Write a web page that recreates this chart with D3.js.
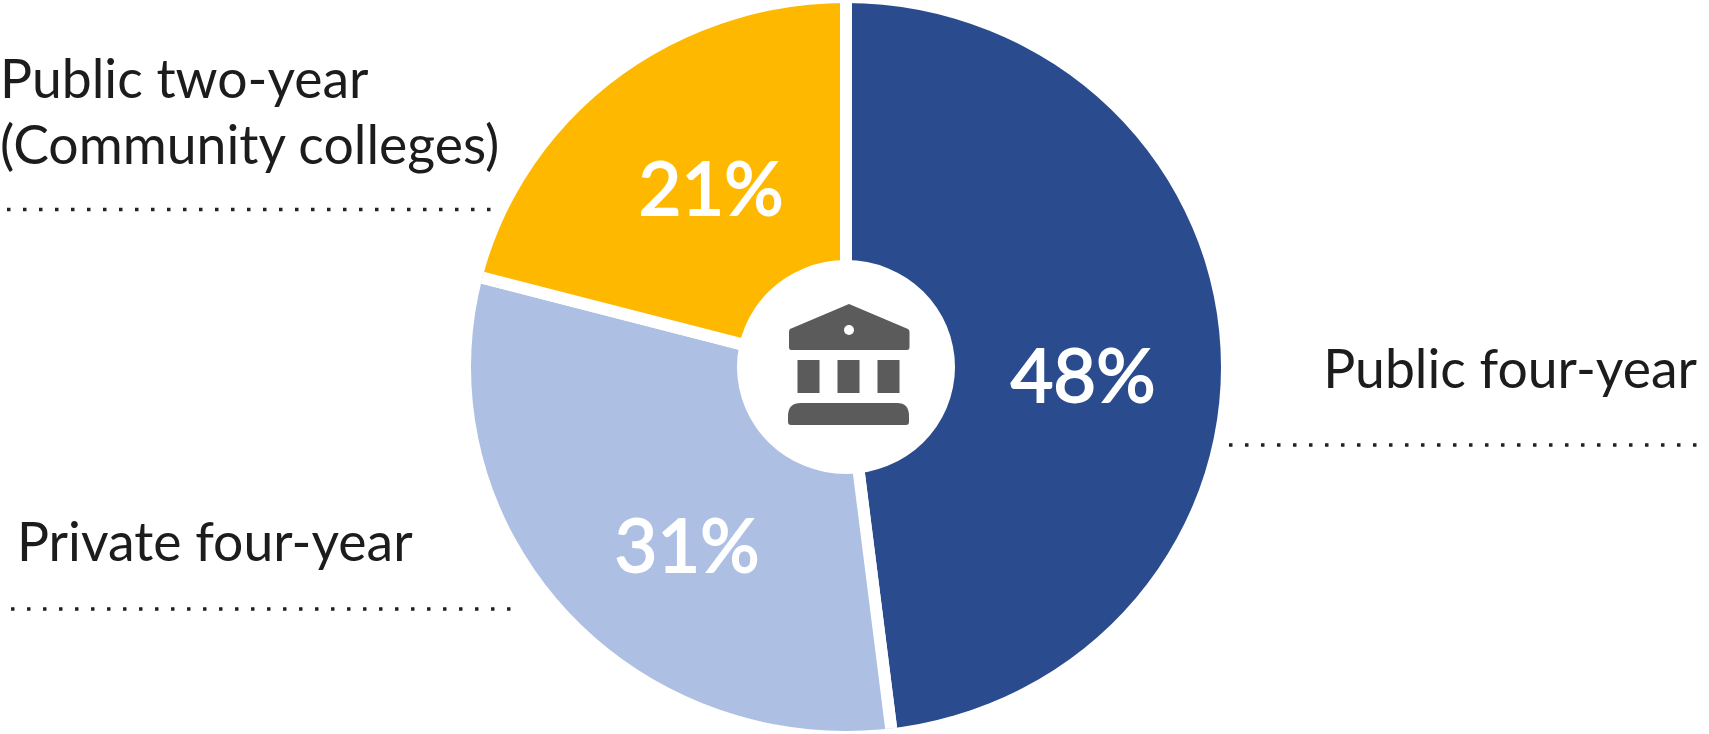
<!DOCTYPE html>
<html><head><meta charset="utf-8">
<script src="https://cdn.jsdelivr.net/npm/d3@7/dist/d3.min.js"></script>
<style>html,body{margin:0;padding:0;background:#fff}svg{display:block}text{font-family:Lato,sans-serif}</style>
</head><body><svg id="c" width="1709" height="734"></svg>
<script>
const categories = ["Public four-year","Private four-year","Public two-year"];
const values = [48,31,21];
const colors = ["#2a4b8d","#adc0e3","#ffb800"];
const labelLines = [["Public four-year"],["Private four-year"],["Public two-year","(Community colleges)"]];
const W=1709,H=734,cx=846,cy=367,wedgeCy=371,Rx=375,Ry=364,holeRx=109,holeRy=107;
const svg=d3.select("#c");
svg.append("defs").append("clipPath").attr("id","pieClip").append("ellipse")
 .attr("cx",cx).attr("cy",cy).attr("rx",Rx).attr("ry",Ry);
const pie=d3.pie().sort(null).value(d=>d)(values);
const arc=d3.arc().innerRadius(0).outerRadius(Rx+40);
const g=svg.append("g").attr("clip-path","url(#pieClip)").append("g").attr("transform",`translate(${cx},${wedgeCy})`);
g.selectAll("path.s").data(pie).join("path").attr("class","s").attr("d",arc)
 .attr("fill",(d,i)=>colors[i]).attr("stroke","#fff").attr("stroke-width",12).attr("stroke-linejoin","round");
// percent labels
const pctPos=[[1083,375],[687,545],[711,188]];
svg.selectAll("text.p").data(values).join("text").attr("class","p")
 .attr("x",(d,i)=>pctPos[i][0]).attr("y",(d,i)=>pctPos[i][1]).attr("dy","0.36em")
 .attr("text-anchor","middle").attr("fill","#fff").attr("stroke","#fff").attr("stroke-width",1.8)
 .attr("font-size",74).attr("font-weight",400)
 .text(d=>d+"%");
svg.append("ellipse").attr("cx",cx).attr("cy",cy).attr("rx",holeRx).attr("ry",holeRy).attr("fill","#fff");
// building icon
const ic=svg.append("g").attr("transform","translate(720,250)").attr("fill","#5b5b5b");
ic.append("path").attr("d","M129 54 L188 79 Q189.5 80 189.5 82 L189.5 97 Q189.5 100 187 100 L71 100 Q69 100 69 97 L69 82 Q69 80 70 79 Z");
ic.append("circle").attr("cx",129).attr("cy",80).attr("r",5).attr("fill","#fff");
[[78],[118],[158]].forEach(([x])=>ic.append("rect").attr("x",x-.5).attr("y",110).attr("width",22).attr("height",33));
ic.append("path").attr("d","M81 153 L177 153 Q189 153 189 166 L189 172 Q189 175 186 175 L71 175 Q68 175 68 172 L68 166 Q68 153 81 153 Z");
// labels
const labs=[{i:0,x:1697,y:[388],a:"end"},{i:1,x:17,y:[561],a:"start"},{i:2,x:0,y:[98,164],a:"start"}];
labs.forEach(l=>labelLines[l.i].forEach((t,k)=>svg.append("text").attr("x",l.x).attr("y",l.y[k]).attr("text-anchor",l.a)
 .attr("font-size",53.5).attr("fill","#1c1c1c").text(t)));
// dotted rules
const rules=[[1229,1700,445],[11,517,609],[7,495,209.5]];
svg.selectAll("line.r").data(rules).join("line").attr("class","r")
 .attr("x1",d=>d[0]).attr("x2",d=>d[1]).attr("y1",d=>d[2]).attr("y2",d=>d[2])
 .attr("stroke","#222").attr("stroke-width",3.5).attr("stroke-dasharray","3.5 12.5");
</script></body></html>
